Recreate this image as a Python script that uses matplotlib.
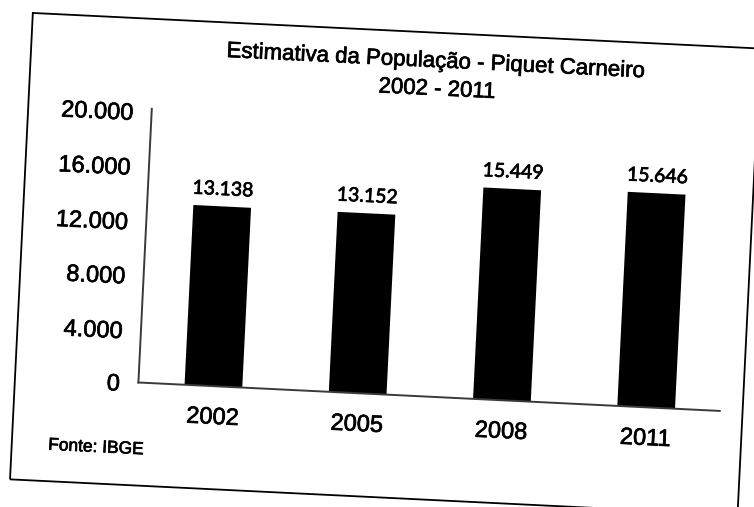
import numpy as np
import matplotlib
matplotlib.use("Agg")
import matplotlib.pyplot as plt
import matplotlib.patheffects as pe
from matplotlib.patches import Rectangle
from matplotlib.transforms import Affine2D, ScaledTranslation

# dados (IBGE)
anos = ["2002", "2005", "2008", "2011"]
populacao = [13138, 13152, 15449, 15646]
rotulos = ["13.138", "13.152", "15.449", "15.646"]
yticks = [0, 4000, 8000, 12000, 16000, 20000]
ytick_labels = ["0", "4.000", "8.000", "12.000", "16.000", "20.000"]

W, H, DPI = 754, 507, 100
ANG = -2.8  # the scan is slightly turned clockwise

plt.rcParams['font.family'] = ['Liberation Sans', 'DejaVu Sans']

# scanned print looks a bit heavier than a clean render
ink = [pe.withStroke(linewidth=0.5, foreground="black")]

fig = plt.figure(figsize=(W / DPI, H / DPI), dpi=DPI, facecolor="white")
rot = Affine2D().rotate_deg_around(W / 2, H / 2, ANG)

ax = fig.add_axes([0.1923, 0.2229, 0.7719, 0.5404])
x = np.arange(len(anos))
bars = ax.bar(x, populacao, width=0.4, color="black")
ax.set_xlim(-0.52, 3.51)
ax.set_ylim(0, 20000)
ax.set_xticks(x, anos)
ax.set_yticks(yticks, ytick_labels)
ax.tick_params(length=0, labelsize=17, labelrotation=ANG)
ax.tick_params(axis="x", pad=14)
ax.tick_params(axis="y", pad=13)
ax.set_facecolor("none")

for s in ["top", "right"]:
    ax.spines[s].set_visible(False)
for s in ["left", "bottom"]:
    ax.spines[s].set_color("#3a3a3a")
    ax.spines[s].set_linewidth(1.4)

# rotulos de valor
off = ScaledTranslation(0, 6 / 72, fig.dpi_scale_trans)
for xi, v, lab in zip(x, populacao, rotulos):
    ax.text(xi, v, lab, ha="center", va="bottom", fontsize=14, family=["Lato", "DejaVu Sans"],
            transform=ax.transData + off + rot, rotation=ANG, rotation_mode="anchor",
            path_effects=ink)

# titulo
fig.text(0.566, 0.8836, "Estimativa da População - Piquet Carneiro", ha="center", va="center",
         fontsize=16, transform=fig.transFigure + rot, rotation=ANG, rotation_mode="anchor",
         path_effects=ink)
fig.text(0.569, 0.8284, "2002 - 2011", ha="center", va="center",
         fontsize=16, transform=fig.transFigure + rot, rotation=ANG, rotation_mode="anchor",
         path_effects=ink)

fig.text(0.0769, 0.0907, "Fonte: IBGE", ha="left", va="center", fontsize=12.5,
         transform=fig.transFigure + rot, rotation=ANG, rotation_mode="anchor",
         path_effects=ink)

# moldura
box = Rectangle((0.0285, 0.0197), 0.966, 0.921, fill=False, edgecolor="black", linewidth=1.3,
                transform=fig.transFigure + rot)
fig.add_artist(box)

# turn the bars, spines and tick labels like the scan
for b in bars:
    b.set_transform(ax.transData + rot)
    b.set_clip_on(False)
for s in ["left", "bottom"]:
    sp = ax.spines[s]
    sp.set_transform(sp.get_transform() + rot)
    sp.set_clip_on(False)

fig.canvas.draw()
for t in ax.get_xticklabels() + ax.get_yticklabels():
    t.set_transform(t.get_transform() + rot)
    t.set_path_effects(ink)

fig.savefig("out.png", dpi=DPI, facecolor="white")
